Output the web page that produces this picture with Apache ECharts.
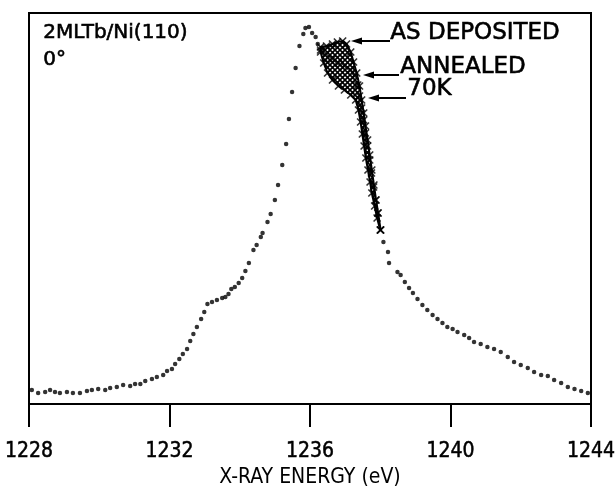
<!DOCTYPE html>
<html>
<head>
<meta charset="utf-8">
<script src="https://cdn.jsdelivr.net/npm/echarts@6/dist/echarts.min.js"></script>
<style>
  html, body { margin: 0; padding: 0; background: #fff; }
  #chart { width: 616px; height: 489px; }
</style>
</head>
<body>
<div id="chart"></div>
<script>
// x ticks (eV)
var tickValues = [1228, 1232, 1236, 1240, 1244];

// measured spectrum (dots), [energy eV, intensity arb.]
var dotsLeft = [
  [1228.08, 14], [1228.26, 11], [1228.46, 12], [1228.60, 14], [1228.74, 12], [1228.88, 11],
  [1229.08, 12], [1229.25, 11], [1229.45, 11], [1229.65, 13], [1229.79, 14], [1229.97, 15],
  [1230.17, 14], [1230.31, 16], [1230.50, 17], [1230.68, 19], [1230.88, 18], [1231.02, 20],
  [1231.17, 20], [1231.31, 23], [1231.50, 25], [1231.64, 27], [1231.82, 29], [1231.93, 33],
  [1232.07, 35], [1232.16, 40], [1232.28, 45], [1232.38, 50], [1232.50, 55], [1232.59, 63],
  [1232.68, 70], [1232.78, 77], [1232.90, 85], [1232.99, 92], [1233.08, 100], [1233.21, 102],
  [1233.35, 104], [1233.50, 106], [1233.59, 107], [1233.68, 110], [1233.76, 115], [1233.86, 117],
  [1233.97, 121], [1234.07, 126], [1234.16, 133], [1234.26, 141], [1234.39, 154], [1234.48, 159],
  [1234.60, 167], [1234.65, 171], [1234.79, 182], [1234.88, 190], [1235.00, 204], [1235.09, 219],
  [1235.21, 239], [1235.32, 260], [1235.40, 285], [1235.49, 312], [1235.59, 336], [1235.70, 358],
  [1235.81, 370], [1235.87, 376], [1235.97, 377], [1236.06, 371], [1236.16, 367], [1236.22, 360]
];
var dotsRight = [
  [1238.09, 162], [1238.22, 152], [1238.25, 141], [1238.49, 132], [1238.58, 129], [1238.70, 122],
  [1238.82, 116], [1238.93, 111], [1239.06, 105], [1239.20, 99], [1239.34, 94], [1239.49, 89],
  [1239.63, 85], [1239.77, 81], [1239.91, 77], [1240.06, 75], [1240.20, 72], [1240.39, 69],
  [1240.53, 66], [1240.67, 62], [1240.86, 60], [1241.05, 57], [1241.24, 55], [1241.43, 52],
  [1241.63, 47], [1241.81, 42], [1242.00, 39], [1242.20, 36], [1242.38, 32], [1242.58, 29],
  [1242.77, 28], [1242.95, 24], [1243.15, 21], [1243.34, 17], [1243.53, 15], [1243.72, 13],
  [1243.91, 11]
];

// the three spectra drawn with crosses on the high-energy flank
var asDeposited = [
  [1236.30, 357], [1236.47, 358], [1236.64, 360], [1236.78, 362], [1236.93, 363], [1237.04, 360],
  [1237.16, 352], [1237.24, 342], [1237.33, 331], [1237.41, 318], [1237.47, 304], [1237.53, 291],
  [1237.58, 278], [1237.64, 264], [1237.70, 249], [1237.76, 234], [1237.82, 219], [1237.88, 204],
  [1237.94, 191], [1238.01, 174]
];
var annealed = [
  [1236.30, 354], [1236.47, 350], [1236.64, 345], [1236.81, 341], [1236.98, 338], [1237.16, 334],
  [1237.27, 328], [1237.36, 319], [1237.41, 308], [1237.47, 296], [1237.53, 284], [1237.58, 271],
  [1237.64, 258], [1237.70, 244], [1237.75, 231], [1237.81, 217], [1237.87, 204], [1237.93, 191],
  [1238.01, 174]
];
var at70K = [
  [1236.30, 352], [1236.39, 341], [1236.50, 331], [1236.64, 324], [1236.81, 318], [1236.98, 314],
  [1237.16, 309], [1237.30, 304], [1237.38, 294], [1237.44, 282], [1237.49, 270], [1237.54, 258],
  [1237.59, 246], [1237.65, 234], [1237.71, 222], [1237.76, 211], [1237.84, 198], [1237.91, 186],
  [1238.00, 174]
];

var ink = '#000';
var labelFont = '"DejaVu Sans Condensed", sans-serif';
var textFont = '"DejaVu Sans", sans-serif';

// cross-hatch tile for the overlapping crosses
var tile = document.createElement('canvas');
tile.width = 5;
tile.height = 5;
var tctx = tile.getContext('2d');
tctx.strokeStyle = ink;
tctx.lineWidth = 1.7;
tctx.beginPath();
tctx.moveTo(-1, -1); tctx.lineTo(6, 6);
tctx.moveTo(6, -1); tctx.lineTo(-1, 6);
tctx.stroke();

var crossSymbol = 'path://M0,0L10,10M10,0L0,10';

function crossSeries(name, data) {
  return {
    name: name,
    type: 'scatter',
    data: data,
    symbol: crossSymbol,
    symbolSize: 7,
    silent: true,
    itemStyle: { color: 'none', borderColor: ink, borderWidth: 1.6 },
    z: 4
  };
}

function txt(text, left, top, size) {
  return {
    type: 'text', left: left, top: top,
    style: { text: text, fill: ink, stroke: ink, lineWidth: 0.6, font: size + 'px ' + textFont }
  };
}

var chart = echarts.init(document.getElementById('chart'));

var option = {
  animation: false,
  backgroundColor: '#fff',
  grid: {
    left: 29, right: 25, top: 13, bottom: 85,
    outerBoundsMode: 'none',
    containLabel: false,
    show: true, borderColor: ink, borderWidth: 2
  },
  xAxis: {
    type: 'value',
    min: tickValues[0],
    max: tickValues[tickValues.length - 1],
    interval: 4,
    name: 'X-RAY ENERGY (eV)',
    nameLocation: 'middle',
    nameGap: 56,
    nameTextStyle: { color: ink, fontSize: 21, fontFamily: labelFont },
    axisLine: { lineStyle: { color: ink, width: 2 } },
    axisTick: { inside: false, length: 23, lineStyle: { color: ink, width: 2 } },
    splitLine: { show: false },
    axisLabel: {
      color: ink, fontSize: 21, fontFamily: labelFont, margin: 37,
      textBorderColor: ink, textBorderWidth: 0.5,
      formatter: function (v) { return String(v); }
    }
  },
  yAxis: {
    type: 'value',
    min: 0,
    max: 391,
    show: false
  },
  series: [
    {
      name: 'spectrum',
      type: 'scatter',
      data: dotsLeft.concat(dotsRight),
      symbol: 'circle',
      symbolSize: 4.5,
      silent: true,
      itemStyle: { color: ink },
      z: 3
    },
    {
      // hatched area where the three spectra overlap
      name: 'overlap',
      type: 'custom',
      data: [0],
      silent: true,
      z: 3,
      renderItem: function (params, api) {
        var pts = asDeposited.map(function (p) { return api.coord(p); })
          .concat(at70K.slice().reverse().map(function (p) { return api.coord(p); }));
        return {
          type: 'polygon',
          shape: { points: pts },
          style: {
            fill: { image: tile, repeat: 'repeat' },
            stroke: ink,
            lineWidth: 2
          }
        };
      }
    },
    crossSeries('AS DEPOSITED', asDeposited),
    crossSeries('ANNEALED', annealed),
    crossSeries('70K', at70K)
  ],
  graphic: [
    txt('2MLTb/Ni(110)', 43, 22, 20),
    txt('0°', 43, 49, 20),
    txt('AS DEPOSITED', 390, 21, 23),
    txt('ANNEALED', 400, 55, 23),
    txt('70K', 407, 77, 23),
    { type: 'line', shape: { x1: 360, y1: 41, x2: 390, y2: 41 }, style: { stroke: ink, lineWidth: 2 } },
    { type: 'polygon', shape: { points: [[351, 41], [362, 37.5], [362, 44.5]] }, style: { fill: ink } },
    { type: 'line', shape: { x1: 372, y1: 75, x2: 399, y2: 75 }, style: { stroke: ink, lineWidth: 2 } },
    { type: 'polygon', shape: { points: [[363, 75], [374, 71.5], [374, 78.5]] }, style: { fill: ink } },
    { type: 'line', shape: { x1: 377, y1: 98, x2: 406, y2: 98 }, style: { stroke: ink, lineWidth: 2 } },
    { type: 'polygon', shape: { points: [[368, 98], [379, 94.5], [379, 101.5]] }, style: { fill: ink } }
  ]
};

chart.setOption(option);
</script>
</body>
</html>
